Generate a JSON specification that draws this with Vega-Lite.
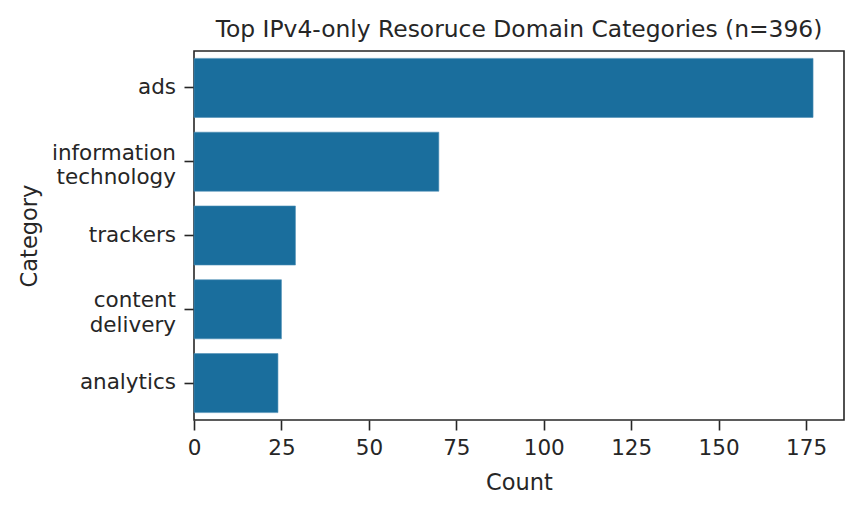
{
  "$schema": "https://vega.github.io/schema/vega-lite/v6.json",
  "autosize": {"type": "none"},
  "padding": {"left": 194, "top": 51, "right": 18, "bottom": 92},
  "width": 650,
  "height": 369,
  "background": "white",
  "title": {"text": "Top IPv4-only Resoruce Domain Categories (n=396)", "font": "DejaVu Sans", "fontSize": 23.4, "fontWeight": "normal", "color": "#262626", "offset": 9, "anchor": "middle"},
  "data": {"values": [
    {"category": "ads", "count": 177},
    {"category": "information technology", "count": 70},
    {"category": "trackers", "count": 29},
    {"category": "content delivery", "count": 25},
    {"category": "analytics", "count": 24}
  ]},
  "mark": {"type": "bar", "color": "#1a6e9d", "stroke": "#4d8fb5", "strokeWidth": 0.6},
  "encoding": {
    "y": {"field": "category", "type": "nominal", "sort": null, "title": "Category",
      "scale": {"paddingInner": 0.2, "paddingOuter": 0.1},
      "axis": {"labelExpr": "split(datum.label, ' ')", "labelFont": "DejaVu Sans", "labelFontSize": 21.5, "labelColor": "#262626", "labelLineHeight": 24.5, "labelPadding": 8.5,
        "labelOffset": {"condition": {"test": "indexof(datum.value, ' ') >= 0", "value": -8}, "value": 0},
        "tickSize": 10, "tickWidth": 1.6, "tickColor": "#262626", "domain": false, "titleFont": "DejaVu Sans", "titleFontSize": 22.5, "titleFontWeight": "normal", "titleColor": "#262626", "titlePadding": 10}},
    "x": {"field": "count", "type": "quantitative", "title": "Count",
      "scale": {"domain": [0, 185.85], "nice": false, "zero": true},
      "axis": {"values": [0, 25, 50, 75, 100, 125, 150, 175], "grid": false, "labelFont": "DejaVu Sans", "labelFontSize": 21.5, "labelColor": "#262626", "labelPadding": 7, "tickSize": 10, "tickWidth": 1.6, "tickColor": "#262626", "domain": false, "titleFont": "DejaVu Sans", "titleFontSize": 22.5, "titleFontWeight": "normal", "titleColor": "#262626", "titlePadding": 13, "labelFlush": false}}
  },
  "config": {"view": {"stroke": "#262626", "strokeWidth": 1.6}}
}
